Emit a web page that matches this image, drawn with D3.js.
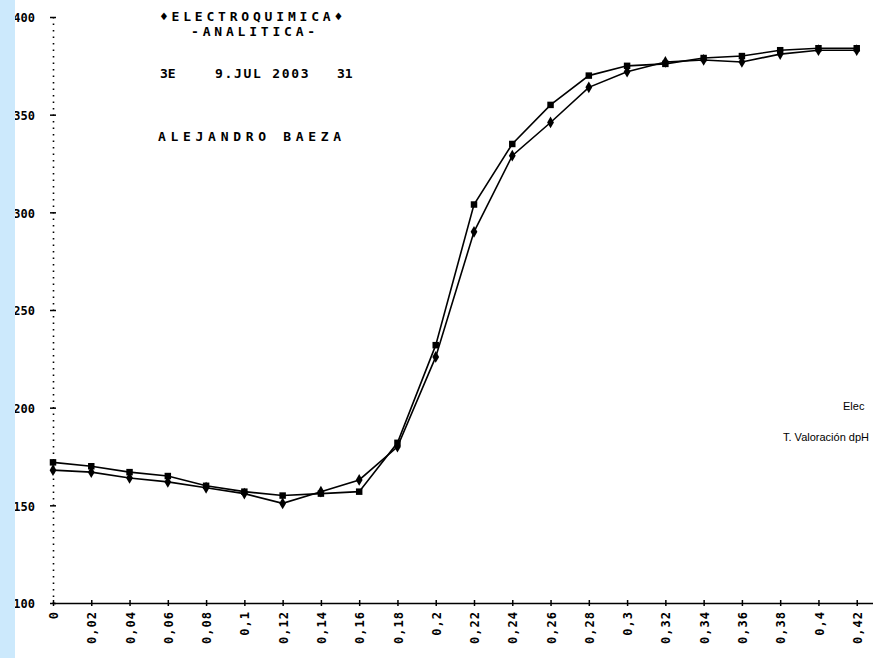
<!DOCTYPE html>
<html>
<head>
<meta charset="utf-8">
<script src="https://cdn.jsdelivr.net/npm/d3@7"></script>
<style>
  body { margin: 0; background: #fff; }
  svg { display: block; }
  .print { font-family: "DejaVu Sans Mono", monospace; font-weight: bold; fill: #000; }
  .tick text { font-family: "DejaVu Sans Mono", monospace; font-weight: bold; font-size: 12px; fill: #000; }
</style>
</head>
<body>
<svg width="873" height="658"></svg>
<script>
// volume added (mL) - one reading every 0.02
var volumes = [0, 0.02, 0.04, 0.06, 0.08, 0.1, 0.12, 0.14, 0.16, 0.18, 0.2,
               0.22, 0.24, 0.26, 0.28, 0.3, 0.32, 0.34, 0.36, 0.38, 0.4, 0.42];

// potential readings (mV), two runs
var run1 = [172, 170, 167, 165, 160, 157, 155, 156, 157, 182, 232,
            304, 335, 355, 370, 375, 376, 379, 380, 383, 384, 384];
var run2 = [168, 167, 164, 162, 159, 156, 151, 157, 163, 180, 226,
            290, 329, 346, 364, 372, 377, 378, 377, 381, 383, 383];

var yTicks = [100, 150, 200, 250, 300, 350, 400];

var svg = d3.select('svg');
var svgWidth = +svg.attr('width');
var svgHeight = +svg.attr('height');

// comma as decimal mark, like the original print-out
var locale = d3.formatLocale({decimal: ',', thousands: '.', grouping: [3], currency: ['', '']});
var fmt = locale.format('~g');

var x = d3.scaleLinear().domain([0, 0.44]).range([53, 895]);
var y = d3.scaleLinear().domain([100, 400]).range([603, 17]);

svg.append('defs').append('clipPath').attr('id', 'page')
    .append('rect').attr('width', svgWidth).attr('height', svgHeight);

var root = svg.append('g').attr('clip-path', 'url(#page)');

// y axis
var yAxis = d3.axisLeft(y).tickValues(yTicks).tickSizeInner(5).tickSizeOuter(0).tickPadding(13);
var yG = root.append('g').attr('transform', 'translate(' + x(0) + ',0)').call(yAxis);
yG.select('.domain').attr('stroke-dasharray', '1.5 5').attr('stroke-width', 1.6);
yG.selectAll('.tick line').attr('x2', 3).attr('x1', -3).attr('stroke-width', 1.5);
yG.selectAll('.tick text').attr('dy', '0.4em');

// x axis
var xAxis = d3.axisBottom(x).tickValues(volumes).tickSize(0).tickFormat(fmt);
var xG = root.append('g').attr('transform', 'translate(0,' + y(100) + ')').call(xAxis);
xG.select('.domain').attr('stroke-width', 1.6);
xG.selectAll('.tick line').attr('y1', -3).attr('y2', 3).attr('stroke-width', 1.5);
xG.selectAll('.tick text')
    .attr('transform', 'rotate(-90)')
    .attr('text-anchor', 'end')
    .attr('x', -8)
    .attr('y', 0)
    .attr('dy', '0.38em')
    .style('letter-spacing', '1px');

// curves
var series = [
  {values: run1, symbol: d3.symbolSquare, size: 42},
  {values: run2, symbol: d3.symbolDiamond, size: 40}
];

var line = d3.line()
    .x(function(d) { return x(d[0]); })
    .y(function(d) { return y(d[1]); });

series.forEach(function(s) {
  var pts = volumes.map(function(v, i) { return [v, s.values[i]]; });
  root.append('path')
      .datum(pts)
      .attr('d', line)
      .attr('fill', 'none')
      .attr('stroke', '#000')
      .attr('stroke-width', 1.6);
  root.selectAll(null)
      .data(pts)
      .enter()
      .append('path')
      .attr('transform', function(d) { return 'translate(' + x(d[0]) + ',' + y(d[1]) + ')'; })
      .attr('d', d3.symbol().type(s.symbol).size(s.size))
      .attr('fill', '#000');
});

// print-out header
var header = root.append('g').attr('class', 'print').style('font-size', '13px');
header.append('text').attr('x', 253).attr('y', 21).attr('text-anchor', 'middle')
    .style('letter-spacing', '3.8px').text('\u2666ELECTROQUIMICA\u2666');
header.append('text').attr('x', 255).attr('y', 36).attr('text-anchor', 'middle')
    .style('letter-spacing', '3.8px').text('-ANALITICA-');
header.append('text').attr('x', 160).attr('y', 78).text('3E');
header.append('text').attr('x', 215).attr('y', 78).style('letter-spacing', '1.7px').text('9.JUL 2003');
header.append('text').attr('x', 337).attr('y', 78).text('31');
header.append('text').attr('x', 158).attr('y', 141)
    .style('letter-spacing', '4.7px').text('ALEJANDRO BAEZA');

// cut-off legend at the right edge
var legend = root.append('g')
    .style('font-family', '"Liberation Sans Narrow", sans-serif')
    .style('font-size', '11px');
legend.append('text').attr('x', 843).attr('y', 410).text('Elec');
legend.append('text').attr('x', 783).attr('y', 441).text('T. Valoración dpH');

// scanner shadow on the left edge
svg.append('rect')
    .attr('x', 0).attr('y', 0)
    .attr('width', 15).attr('height', svgHeight)
    .attr('fill', '#cce9fc');
</script>
</body>
</html>
